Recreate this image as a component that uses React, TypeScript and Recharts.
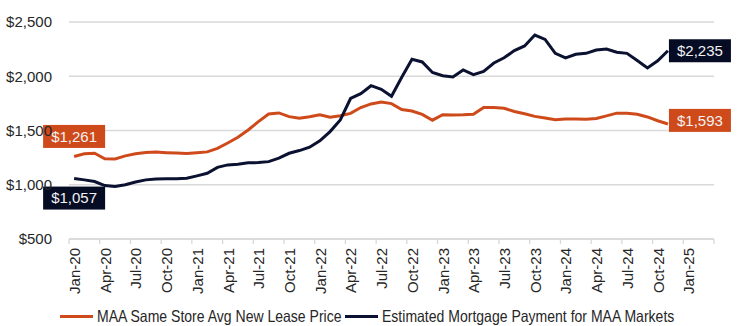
import React from 'react';
import { LineChart, Line, XAxis, YAxis, CartesianGrid, ReferenceDot } from 'recharts';

// monthly values, Jan-20 .. Nov-24
const leasePrice = [
  1261, 1285, 1290, 1240, 1238, 1266, 1285, 1298, 1302, 1296, 1292, 1287,
  1295, 1303, 1335, 1385, 1437, 1505, 1582, 1652, 1662, 1628, 1612, 1627,
  1645, 1622, 1636, 1658, 1712, 1745, 1763, 1748, 1694, 1680, 1648, 1595,
  1645, 1643, 1645, 1650, 1712, 1712, 1705, 1675, 1655, 1630, 1615, 1600,
  1605, 1607, 1604, 1610, 1635, 1660, 1660, 1650, 1625, 1590, 1560,
];

const mortgagePayment = [
  1057, 1045, 1030, 992, 983, 1000, 1025, 1045, 1054, 1055, 1055, 1060,
  1082, 1106, 1160, 1183, 1189, 1203, 1204, 1213, 1245, 1290, 1315, 1346,
  1405, 1490, 1598, 1795, 1840, 1913, 1880, 1815, 1990, 2156, 2132, 2035,
  2005, 1993, 2058, 2015, 2045, 2122, 2170, 2236, 2279, 2380, 2340, 2211,
  2170, 2203, 2211, 2242, 2250, 2221, 2211, 2145, 2077, 2142, 2235,
];

const tickLabels = [
  'Jan-20', 'Apr-20', 'Jul-20', 'Oct-20', 'Jan-21', 'Apr-21', 'Jul-21', 'Oct-21',
  'Jan-22', 'Apr-22', 'Jul-22', 'Oct-22', 'Jan-23', 'Apr-23', 'Jul-23', 'Oct-23',
  'Jan-24', 'Apr-24', 'Jul-24', 'Oct-24', 'Jan-25',
];

const yTicks = [500, 1000, 1500, 2000, 2500];

const ORANGE = '#CF4A1B';
const NAVY = '#0B1130';
const NAVY_BOX = '#060C24';
const FONT = "'Liberation Sans', Arial, sans-serif";

// points sit mid-month on a month axis that starts at Jan-20
const data = leasePrice.map((v, i) => ({
  month: i + 0.5,
  lease: v,
  mortgage: mortgagePayment[i],
}));

const xTicks = [...tickLabels.map((_, i) => i * 3), 63];

const endLabels = [
  { month: 0.5, value: 1261, text: '$1,261', color: ORANGE, place: 'above' },
  { month: 0.5, value: 1057, text: '$1,057', color: NAVY_BOX, place: 'below' },
  { month: 58.5, value: 2235, text: '$2,235', color: NAVY_BOX, place: 'right' },
  { month: 58.5, value: 1593, text: '$1,593', color: ORANGE, place: 'right' },
];

const MonthTick = (props: any) => {
  const { x, y, payload } = props;
  const label = tickLabels[payload.value / 3];
  if (!label || payload.value % 3 !== 0) return null;
  return (
    <g transform={`translate(${x},${y}) rotate(-90)`}>
      <text x={0} y={0} dy={11} textAnchor="end" fontSize={15} fill="#262626" fontFamily={FONT}>
        {label}
      </text>
    </g>
  );
};

const makeBox = (text: string, color: string, place: string) => (props: any) => {
  const { cx, cy } = props;
  const w = 62;
  const h = 23;
  let bx = cx - 31;
  let by = cy - 11.5;
  if (place === 'above') by = cy - 31.5;
  if (place === 'below') by = cy + 8;
  if (place === 'right') bx = cx + 1;
  return (
    <g>
      <rect x={bx} y={by} width={w} height={h} fill={color} />
      <text
        x={bx + w / 2}
        y={by + h / 2}
        dy="0.36em"
        textAnchor="middle"
        fontSize={15}
        fill="#F2F2F2"
        fontFamily={FONT}
      >
        {text}
      </text>
    </g>
  );
};

// legend entries, squeezed horizontally to look like the condensed original
const legendItems = [
  { name: 'MAA Same Store Avg New Lease Price', color: ORANGE, left: 60 },
  { name: 'Estimated Mortgage Payment for MAA Markets', color: NAVY, left: 345 },
];

export default function App() {
  return (
    <div style={{ position: 'absolute', left: 0, top: 0, width: 747, height: 326, background: '#fff' }}>
      <LineChart width={747} height={326} data={data} margin={{ top: 22, right: 33, bottom: 0, left: 0 }}>
        <CartesianGrid horizontal vertical={false} stroke="#D9D9D9" strokeWidth={1.3} />
        <XAxis
          dataKey="month"
          type="number"
          domain={[0, 63]}
          ticks={xTicks}
          interval={0}
          height={87}
          tick={<MonthTick />}
          tickSize={5}
          tickMargin={4}
          axisLine={{ stroke: '#D9D9D9', strokeWidth: 1.3 }}
          tickLine={{ stroke: '#D9D9D9', strokeWidth: 1.3 }}
        />
        <YAxis
          type="number"
          domain={[500, 2500]}
          ticks={yTicks}
          width={69}
          axisLine={false}
          tickLine={false}
          tickMargin={11}
          tickFormatter={(v: number) => `$${v.toLocaleString('en-US')}`}
          tick={{ fontSize: 15, fill: '#262626', fontFamily: FONT }}
        />
        <Line
          type="linear"
          dataKey="lease"
          stroke={ORANGE}
          strokeWidth={3}
          dot={false}
          isAnimationActive={false}
        />
        <Line
          type="linear"
          dataKey="mortgage"
          stroke={NAVY}
          strokeWidth={3}
          dot={false}
          isAnimationActive={false}
        />
        {endLabels.map((l) => (
          <ReferenceDot
            key={l.text}
            x={l.month}
            y={l.value}
            ifOverflow="visible"
            shape={makeBox(l.text, l.color, l.place)}
          />
        ))}
      </LineChart>
      {legendItems.map((item) => (
        <div
          key={item.name}
          style={{
            position: 'absolute',
            top: 306,
            left: item.left,
            height: 20,
            display: 'flex',
            alignItems: 'center',
            whiteSpace: 'nowrap',
          }}
        >
          <span style={{ display: 'inline-block', width: 33, height: 3, background: item.color, marginRight: 4 }} />
          <span
            style={{
              display: 'inline-block',
              fontFamily: FONT,
              fontSize: 16.5,
              color: '#262626',
              lineHeight: '20px',
              transform: 'scaleX(0.85)',
              transformOrigin: 'left center',
            }}
          >
            {item.name}
          </span>
        </div>
      ))}
    </div>
  );
}
